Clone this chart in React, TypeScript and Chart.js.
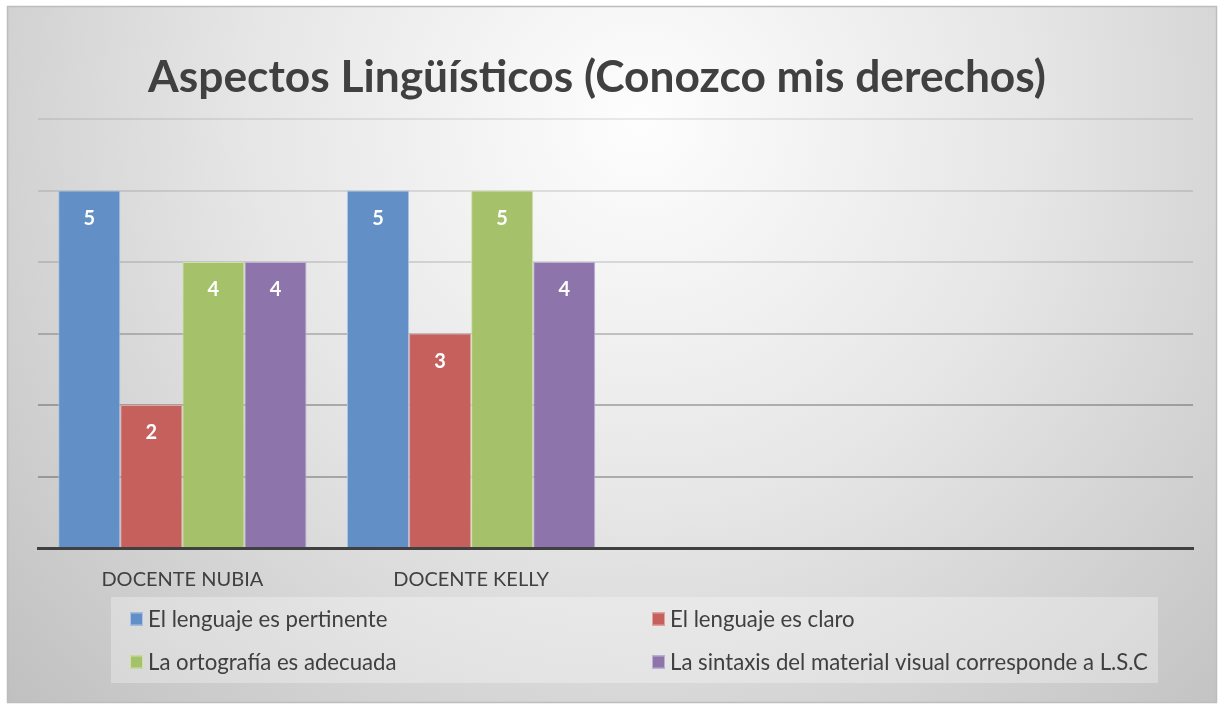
import React, { useEffect, useRef } from "react";
import { Chart, registerables } from "chart.js";

Chart.register(...registerables);

const categories = ["DOCENTE NUBIA", "DOCENTE KELLY", "", ""];
const seriesNames = [
  "El lenguaje es pertinente",
  "El lenguaje es claro",
  "La ortografía es adecuada",
  "La sintaxis del material visual corresponde a L.S.C",
];
const pertinente = [5, 5, null, null];
const claro = [2, 3, null, null];
const ortografia = [4, 5, null, null];
const sintaxis = [4, 4, null, null];
const yTicks = [0, 1, 2, 3, 4, 5, 6];
const titleText = "Aspectos Lingüísticos (Conozco mis derechos)";

const fills = ["#6290c6", "#c6605d", "#a5c26b", "#8d74ab"];
const edges = ["#a9c4e6", "#e3a2a0", "#cfe2a6", "#bfb0d3"];
const gridAlpha = [0, 0.26, 0.26, 0.2, 0.12, 0.1, 0.08];
const FONT = "Lato, 'Open Sans', sans-serif";
const TEXT = "#404040";

const framePlugin = {
  id: "frame",
  beforeDraw(chart: any) {
    const { ctx, width, height } = chart;
    ctx.save();
    ctx.fillStyle = "#ffffff";
    ctx.fillRect(0, 0, width, height);
    const g = ctx.createRadialGradient(640, 120, 10, 640, 120, 860);
    g.addColorStop(0, "#fdfdfd");
    g.addColorStop(0.45, "#e6e6e6");
    g.addColorStop(1, "#c0c0c0");
    ctx.fillStyle = g;
    ctx.fillRect(7, 6, 1210, 697);
    ctx.strokeStyle = "#bdbdbd";
    ctx.lineWidth = 1.5;
    ctx.strokeRect(7.5, 6.5, 1209, 696);
    ctx.fillStyle = TEXT;
    ctx.font = `bold 44.3px ${FONT}`;
    ctx.textAlign = "center";
    ctx.textBaseline = "alphabetic";
    ctx.fillText(titleText, 597, 92);
    ctx.restore();
  },
};

const overlayPlugin = {
  id: "overlay",
  afterDraw(chart: any) {
    const { ctx } = chart;
    ctx.save();
    ctx.fillStyle = "#ffffff";
    ctx.font = `bold 20px ${FONT}`;
    ctx.textAlign = "center";
    ctx.textBaseline = "middle";
    chart.data.datasets.forEach((ds: any, i: number) => {
      const meta = chart.getDatasetMeta(i);
      meta.data.forEach((bar: any, j: number) => {
        const v = ds.data[j];
        if (v === null || v === undefined) return;
        ctx.fillText(String(v), bar.x, bar.y + 28);
      });
    });
    ctx.fillStyle = "rgba(255,255,255,0.3)";
    ctx.fillRect(111, 597, 1047, 86);
    ctx.font = `22.2px ${FONT}`;
    ctx.textAlign = "left";
    const cols = [130, 652];
    const rows = [619, 662];
    chart.data.datasets.forEach((ds: any, i: number) => {
      const x = cols[i % 2];
      const y = rows[Math.floor(i / 2)];
      ctx.fillStyle = ds.backgroundColor;
      ctx.fillRect(x, y - 6.5, 13, 13);
      ctx.strokeStyle = ds.borderColor;
      ctx.lineWidth = 1;
      ctx.strokeRect(x + 0.5, y - 6, 12, 12);
      ctx.fillStyle = TEXT;
      ctx.fillText(ds.label, x + 18, y + 1);
    });
    ctx.restore();
  },
};

export default function App() {
  const ref = useRef<HTMLCanvasElement | null>(null);
  useEffect(() => {
    if (!ref.current) return;
    const series = [pertinente, claro, ortografia, sintaxis];
    const chart = new Chart(ref.current, {
      type: "bar",
      data: {
        labels: categories,
        datasets: series.map((d, i) => ({
          label: seriesNames[i],
          data: d,
          backgroundColor: fills[i],
          borderColor: edges[i],
          borderWidth: 1,
          categoryPercentage: 0.86,
          barPercentage: 1,
        })),
      },
      options: {
        responsive: false,
        animation: false,
        layout: { padding: { left: 38, right: 31, top: 119, bottom: 111 } },
        plugins: {
          legend: { display: false },
          title: { display: false },
          tooltip: { enabled: false },
        },
        scales: {
          x: {
            grid: { display: false },
            border: { color: TEXT, width: 3 },
            ticks: { color: TEXT, font: { family: FONT, size: 20 }, padding: 12 },
            afterFit: (s: any) => {
              s.height = 50;
            },
          },
          y: {
            min: yTicks[0],
            max: yTicks[yTicks.length - 1],
            afterBuildTicks: (s: any) => {
              s.ticks = yTicks.map((v) => ({ value: v }));
            },
            ticks: { display: false },
            grid: {
              color: (c: any) => `rgba(0,0,0,${gridAlpha[c.index] ?? 0.1})`,
              lineWidth: 2,
              drawTicks: false,
            },
            border: { display: false },
            afterFit: (s: any) => {
              s.width = 0;
            },
          },
        },
      },
      plugins: [framePlugin, overlayPlugin],
    });
    return () => chart.destroy();
  }, []);
  return (
    <div style={{ position: "absolute", left: 0, top: 0, width: 1224, height: 709 }}>
      <canvas ref={ref} width={1224} height={709} />
    </div>
  );
}
